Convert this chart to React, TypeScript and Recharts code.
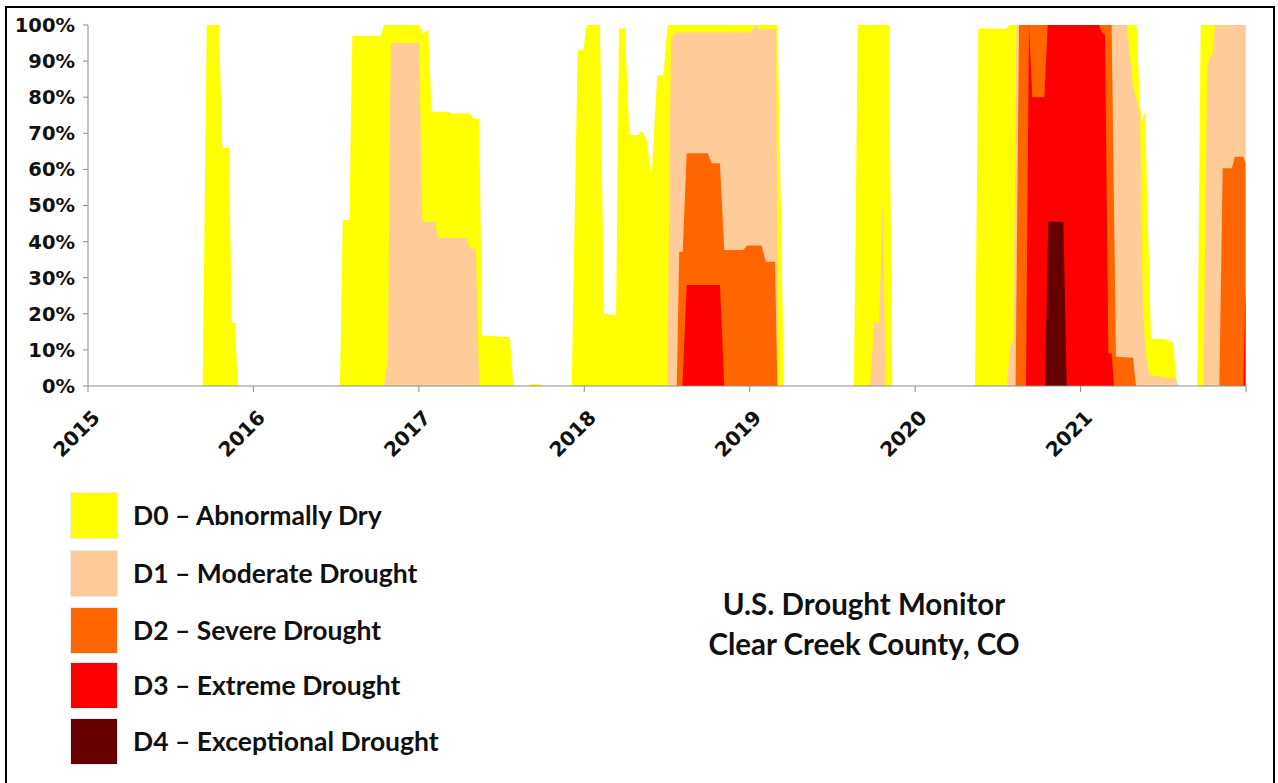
import { Area, AreaChart, XAxis, YAxis } from "recharts";

// Drought Monitor, Clear Creek County, CO — percent of area in each category (cumulative, D0 = D0-D4)
const yearTicks = [2015, 2016, 2017, 2018, 2019, 2020, 2021, 2022];
const pctTicks = [0, 10, 20, 30, 40, 50, 60, 70, 80, 90, 100];

const d0Dates = [
  2015.693, 2015.718, 2015.792, 2015.812, 2015.852, 2015.869, 2015.889, 2015.905,
  2016.523, 2016.54, 2016.58, 2016.598, 2016.771, 2016.789, 2017.003, 2017.021, 2017.057, 2017.078,
  2017.178, 2017.2, 2017.309, 2017.329, 2017.365, 2017.382, 2017.551, 2017.571,
  2017.654, 2017.672, 2017.732, 2017.75,
  2017.924, 2017.96, 2017.994, 2018.015, 2018.095, 2018.119, 2018.192, 2018.21, 2018.246, 2018.272,
  2018.327, 2018.337, 2018.357, 2018.377, 2018.407, 2018.441, 2018.478, 2018.504, 2019.169, 2019.207,
  2019.63, 2019.653, 2019.842, 2019.862,
  2020.362, 2020.382, 2020.553, 2020.569, 2021.339, 2021.359, 2021.371, 2021.389, 2021.426, 2021.51,
  2021.559, 2021.583,
  2021.706, 2021.726, 2021.997,
];
const d0Pct = [
  0, 100, 100, 66, 66, 17.5, 17.5, 0,
  0, 46, 46, 97, 97, 100, 100, 97.7, 98.6, 76,
  76, 75.5, 75.5, 74, 74, 14, 13.5, 0,
  0, 0.5, 0.5, 0,
  0, 93, 93, 100, 100, 20, 19.5, 99, 99, 69.5,
  69.5, 70.6, 70, 68, 58, 86, 86, 100, 100, 0,
  0, 100, 100, 0,
  0, 99, 99, 100, 100, 78, 73, 76, 13, 13,
  12, 0,
  0, 100, 100,
];

const d1Dates = [
  2016.789, 2016.813, 2016.83, 2017.001, 2017.021, 2017.098, 2017.118, 2017.289, 2017.309, 2017.345, 2017.365,
  2018.502, 2018.524, 2018.559, 2019.002, 2019.032, 2019.062, 2019.159, 2019.173,
  2019.727, 2019.753, 2019.782, 2019.804, 2019.822,
  2020.553, 2020.578, 2020.595, 2020.613, 2021.279, 2021.317, 2021.359, 2021.377, 2021.396, 2021.417,
  2021.571, 2021.592,
  2021.742, 2021.766, 2021.782, 2021.797, 2021.813, 2021.997,
];
const d1Pct = [
  0, 7, 95, 95, 45.5, 45.5, 41, 41, 38, 38, 0,
  0, 96.6, 97.9, 97.9, 100, 98.8, 98.8, 0,
  0, 17.4, 17.4, 51, 0,
  0, 12, 12, 100, 100, 83, 75, 21, 8, 3,
  2, 0,
  0, 88, 91, 92, 100, 100,
];

const d2Dates = [
  2018.559, 2018.574, 2018.595, 2018.619, 2018.746, 2018.77, 2018.82, 2018.846, 2018.961, 2018.985,
  2019.072, 2019.097, 2019.153, 2019.167,
  2020.607, 2020.628, 2021.188, 2021.214, 2021.317, 2021.335,
  2021.839, 2021.859, 2021.914, 2021.933, 2021.984, 2021.997,
];
const d2Pct = [
  0, 37.2, 37.2, 64.5, 64.5, 61.7, 61.7, 37.7, 37.7, 38.9,
  38.9, 34.4, 34.4, 0,
  0, 100, 100, 8.1, 7.8, 0,
  0, 60.3, 60.3, 63.5, 63.5, 61.7,
];

const d3Dates = [
  2018.593, 2018.619, 2018.82, 2018.846,
  2020.67, 2020.688, 2020.708, 2020.781, 2020.801, 2021.111, 2021.129, 2021.148, 2021.168, 2021.188, 2021.202,
  2021.984, 2021.997,
];
const d3Pct = [
  0, 28, 28, 0,
  0, 100, 80, 80, 100, 100, 98, 97, 9, 9, 0,
  0, 27.5,
];

const d4Dates = [2020.785, 2020.805, 2020.896, 2020.916];
const d4Pct = [0, 45.5, 45.5, 0];

const levels = [
  { key: "d0", label: "D0 – Abnormally Dry", color: "#FFFF00", dates: d0Dates, pct: d0Pct },
  { key: "d1", label: "D1 – Moderate Drought", color: "#FFCC99", dates: d1Dates, pct: d1Pct },
  { key: "d2", label: "D2 – Severe Drought", color: "#FF6600", dates: d2Dates, pct: d2Pct },
  { key: "d3", label: "D3 – Extreme Drought", color: "#FF0000", dates: d3Dates, pct: d3Pct },
  { key: "d4", label: "D4 – Exceptional Drought", color: "#660000", dates: d4Dates, pct: d4Pct },
];

// one row per week that appears in any series; gaps are bridged with connectNulls
function buildRows() {
  const rows = new Map<number, any>();
  levels.forEach((lv) => {
    lv.dates.forEach((t, i) => {
      if (!rows.has(t)) {
        const r: any = { t };
        levels.forEach((l) => (r[l.key] = null));
        rows.set(t, r);
      }
      rows.get(t)[lv.key] = lv.pct[i];
    });
  });
  return [...rows.values()].sort((a, b) => a.t - b.t);
}
const rows = buildRows();

const axisFont = "'DejaVu Sans', Verdana, sans-serif";
const textFont = "Lato, 'Open Sans', sans-serif";
const legendTops = [493, 551, 608, 663, 719];

function YearTick(props: any) {
  const { x, y, payload } = props;
  if (payload.value === 2022) return <g />;
  return (
    <g transform={`translate(${x + 13},${y + 25})`}>
      <text
        textAnchor="end"
        transform="rotate(-45)"
        fontFamily={axisFont}
        fontWeight="bold"
        fontSize={20}
        fill="#111"
      >
        {payload.value}
      </text>
    </g>
  );
}

export default function App() {
  return (
    <div
      style={{
        position: "absolute",
        left: 0,
        top: 0,
        width: 1278,
        height: 783,
        background: "#fff",
        overflow: "hidden",
      }}
    >
      <div
        style={{
          position: "absolute",
          left: 5,
          top: 6,
          width: 1266,
          height: 800,
          border: "2px solid #000",
        }}
      />
      <div style={{ position: "absolute", left: 0, top: 0 }}>
        <AreaChart width={1278} height={470} data={rows} margin={{ top: 25, right: 32, left: 0, bottom: 0 }}>
          <XAxis
            dataKey="t"
            type="number"
            domain={[2015, 2022]}
            ticks={yearTicks}
            allowDataOverflow
            height={84}
            stroke="#8c8c8c"
            tickSize={6}
            tickMargin={2}
            tick={<YearTick />}
          />
          <YAxis
            type="number"
            domain={[0, 100]}
            ticks={pctTicks}
            width={88}
            stroke="#8c8c8c"
            tickSize={5}
            tickMargin={8}
            tickFormatter={(v: number) => `${v}%`}
            tick={{ fontFamily: axisFont, fontWeight: "bold", fontSize: 19.5, fill: "#111" }}
          />
          {levels.map((lv) => (
            <Area
              key={lv.key}
              dataKey={lv.key}
              type="linear"
              stroke="none"
              fill={lv.color}
              fillOpacity={1}
              connectNulls
              isAnimationActive={false}
              dot={false}
              activeDot={false}
            />
          ))}
        </AreaChart>
      </div>

      {levels.map((lv, i) => (
        <div key={lv.key}>
          <div
            style={{
              position: "absolute",
              left: 71,
              top: legendTops[i],
              width: 46,
              height: 45,
              background: lv.color,
              boxShadow: "0 0 1px 1px rgba(0,0,0,0.08)",
            }}
          />
          <div
            style={{
              position: "absolute",
              left: 133,
              top: legendTops[i],
              height: 45,
              lineHeight: "45px",
              fontFamily: textFont,
              fontWeight: "bold",
              fontSize: 26.5,
              color: "#111",
              whiteSpace: "nowrap",
            }}
          >
            {lv.label}
          </div>
        </div>
      ))}

      <div
        style={{
          position: "absolute",
          left: 614,
          top: 584,
          width: 500,
          textAlign: "center",
          fontFamily: textFont,
          fontWeight: "bold",
          fontSize: 29.5,
          lineHeight: "40px",
          color: "#111",
        }}
      >
        <div>U.S. Drought Monitor</div>
        <div>Clear Creek County, CO</div>
      </div>
    </div>
  );
}
